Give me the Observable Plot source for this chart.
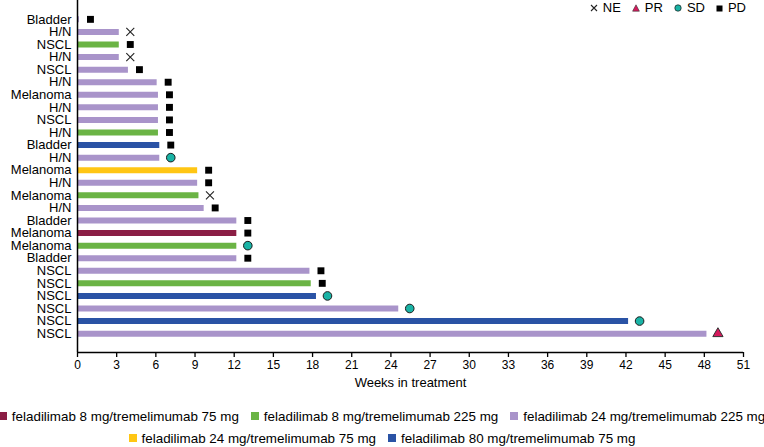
<!DOCTYPE html>
<html>
<head>
<meta charset="utf-8">
<script src="https://cdn.jsdelivr.net/npm/d3@7"></script>
<script src="https://cdn.jsdelivr.net/npm/@observablehq/plot@0.6"></script>
<style>
  body { margin: 0; background: #fff; font-family: "Liberation Sans", Arial, sans-serif; color: #000; }
  #wrap { position: relative; width: 764px; }
  #topleg { position: absolute; top: 0; right: 18px; height: 16px; display: flex; align-items: center; font-size: 13px; line-height: 16px; }
  #topleg .it { display: flex; align-items: center; margin-left: 11px; }
  #topleg .it svg { margin-right: 5px; }
  #leg { width: 764px; margin-top: 7px; font-size: 13.4px; }
  #leg .row { display: flex; justify-content: center; height: 22px; align-items: center; white-space: nowrap; }
  #leg .it { display: flex; align-items: center; margin: 0 6px; }
  #leg .sw { width: 8px; height: 8px; margin-right: 5px; display: inline-block; }
</style>
</head>
<body>
<div id="wrap">
  <div id="chart"></div>
  <div id="topleg"></div>
</div>
<div id="leg"></div>
<script>
// ---- data ----
const labels = ["Bladder","H/N","NSCL","H/N","NSCL","H/N","Melanoma","H/N","NSCL","H/N","Bladder","H/N","Melanoma","H/N","Melanoma","H/N","Bladder","Melanoma","Melanoma","Bladder","NSCL","NSCL","NSCL","NSCL","NSCL","NSCL"];
const weeks = [0.15, 3.2, 3.2, 3.2, 3.9, 6.1, 6.2, 6.2, 6.2, 6.2, 6.3, 6.3, 9.2, 9.2, 9.3, 9.7, 12.2, 12.2, 12.2, 12.2, 17.8, 17.9, 18.3, 24.6, 42.2, 48.2];
const doseIndex = [2, 2, 1, 2, 2, 2, 2, 2, 2, 1, 4, 2, 3, 2, 1, 2, 2, 0, 1, 2, 2, 1, 4, 2, 4, 2];
const response = ["PD","NE","PD","NE","PD","PD","PD","PD","PD","PD","PD","SD","PD","PD","NE","PD","PD","PD","SD","PD","PD","PD","SD","SD","SD","PR"];
const doseNames = [
  "feladilimab 8 mg/tremelimumab 75 mg",
  "feladilimab 8 mg/tremelimumab 225 mg",
  "feladilimab 24 mg/tremelimumab 225 mg",
  "feladilimab 24 mg/tremelimumab 75 mg",
  "feladilimab 80 mg/tremelimumab 75 mg"
];
const doseColors = ["#8B1E45", "#6BB445", "#A994CA", "#FFC614", "#2A53A5"];
const xTicks = d3.range(0, 52, 3);
const responseNames = ["NE", "PR", "SD", "PD"];

// ---- build ----
const rows = labels.map((label, i) => ({i, label, weeks: weeks[i], dose: doseNames[doseIndex[i]], resp: response[i]}));
const yDomain = [labels.length + 0.5, -1.5];

const chart = Plot.plot({
  width: 764,
  height: 398,
  marginLeft: 77,
  marginRight: 21,
  marginTop: 0,
  marginBottom: 46,
  style: {fontFamily: "'Liberation Sans', Arial, sans-serif", color: "#000", background: "#fff"},
  x: {domain: [0, 51]},
  y: {domain: yDomain},
  color: {domain: doseNames, range: doseColors},
  marks: [
    Plot.ruleY(rows, {y: "i", x1: 0, x2: "weeks", stroke: "dose", strokeWidth: 6}),
    Plot.ruleX([0], {stroke: "#000", strokeWidth: 1.5}),
    Plot.ruleY([yDomain[0]], {stroke: "#000", strokeWidth: 1.5}),
    Plot.axisX({ticks: xTicks, tickSize: 5, tickPadding: 3, fontSize: 12, label: null, strokeWidth: 1.3}),
    Plot.axisY({ticks: d3.range(labels.length), tickFormat: (i) => labels[i], tickSize: 0, tickPadding: 6, fontSize: 13, label: null}),
    Plot.text(["Weeks in treatment"], {frameAnchor: "bottom", dy: 34, fontSize: 13}),
    Plot.dot(rows.filter(d => d.resp === "PD"), {x: "weeks", y: "i", dx: 11, symbol: "square", r: 3.9, fill: "#000", stroke: "none"}),
    Plot.dot(rows.filter(d => d.resp === "NE"), {x: "weeks", y: "i", dx: 11, symbol: "times", r: 3.7, fill: "none", stroke: "#222", strokeWidth: 1.1}),
    Plot.dot(rows.filter(d => d.resp === "SD"), {x: "weeks", y: "i", dx: 11, symbol: "circle", r: 4.3, fill: "#19B3A5", stroke: "#1a1a1a", strokeWidth: 1}),
    Plot.dot(rows.filter(d => d.resp === "PR"), {x: "weeks", y: "i", dx: 11, symbol: "triangle", r: 3.8, fill: "#D5195C", stroke: "#333", strokeWidth: 1})
  ]
});
document.getElementById("chart").appendChild(chart);

// ---- response legend (top right) ----
const symSvg = {
  NE: '<svg width="8" height="8" viewBox="0 0 8 8"><path d="M1 1L7 7M7 1L1 7" stroke="#222" stroke-width="1.1"/></svg>',
  PR: '<svg width="8" height="8" viewBox="0 0 8 8"><path d="M4 0.8L7.4 7.2H0.6Z" fill="#D5195C" stroke="#333" stroke-width="0.6"/></svg>',
  SD: '<svg width="8" height="8" viewBox="0 0 8 8"><circle cx="4" cy="4" r="3.2" fill="#19B3A5" stroke="#1a1a1a" stroke-width="0.7"/></svg>',
  PD: '<svg width="7" height="7" viewBox="0 0 7 7"><rect x="0.5" y="0.5" width="6" height="6" fill="#000"/></svg>'
};
const topLegend = document.getElementById("topleg");
responseNames.forEach(r => {
  const it = document.createElement("div");
  it.className = "it";
  it.innerHTML = symSvg[r];
  const t = document.createElement("span");
  t.textContent = r;
  it.appendChild(t);
  topLegend.appendChild(it);
});

// ---- dose legend (bottom) ----
const doseLegend = document.getElementById("leg");
[[0, 1, 2], [3, 4]].forEach(group => {
  const row = document.createElement("div");
  row.className = "row";
  group.forEach(k => {
    const it = document.createElement("div");
    it.className = "it";
    const sw = document.createElement("span");
    sw.className = "sw";
    sw.style.background = doseColors[k];
    const t = document.createElement("span");
    t.textContent = doseNames[k];
    it.appendChild(sw);
    it.appendChild(t);
    row.appendChild(it);
  });
  doseLegend.appendChild(row);
});
</script>
</body>
</html>
